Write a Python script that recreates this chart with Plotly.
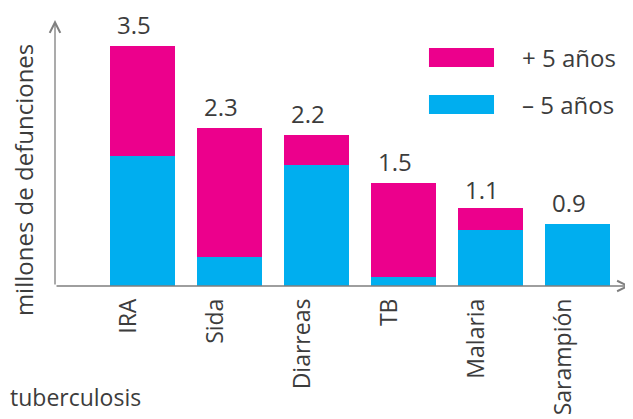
import plotly.graph_objects as go

# Data (millions of deaths)
causas = ["IRA", "Sida", "Diarreas", "TB", "Malaria", "Sarampión"]
menores_5 = [1.89, 0.43, 1.76, 0.13, 0.82, 0.90]
mayores_5 = [1.61, 1.87, 0.44, 1.37, 0.32, 0.0]
totales = [3.5, 2.3, 2.2, 1.5, 1.1, 0.9]
etiquetas_total = ["3.5", "2.3", "2.2", "1.5", "1.1", "0.9"]

PINK = "#EC008C"
BLUE = "#00AEEF"
GRAY = "#7f7f7f"
TXT = "#3c3c3c"
FONT = "Open Sans"

fig = go.Figure()

fig.add_trace(go.Bar(
    x=causas, y=menores_5, name="– 5 años",
    marker=dict(color=BLUE, line=dict(width=0)),
    width=0.75,
))
fig.add_trace(go.Bar(
    x=causas, y=mayores_5, name="+ 5 años",
    marker=dict(color=PINK, line=dict(width=0)),
    width=0.75,
))

# the page body keeps an 8px margin, so the figure is 8px smaller
fig.update_layout(
    width=625, height=411,
    margin=dict(l=47, r=3, t=12, b=133),
    barmode="stack",
    showlegend=False,
    plot_bgcolor="white",
    paper_bgcolor="white",
    font=dict(family=FONT, color=TXT),
)

fig.update_xaxes(
    range=[-1.006, 5.603],
    tickangle=-90,
    tickfont=dict(family=FONT, size=23, color=TXT),
    ticklabelshift=-14,
    ticklabelstandoff=7,
    showline=False, showgrid=False, ticks="",
    fixedrange=True,
)
fig.update_yaxes(
    range=[0, 3.88],
    showticklabels=False, showgrid=False, zeroline=False,
    showline=False, ticks="",
    fixedrange=True,
)

# total labels above each stack
for causa, total, etiqueta in zip(causas, totales, etiquetas_total):
    fig.add_annotation(x=causa, y=total, text=etiqueta, showarrow=False,
                       yanchor="bottom", yshift=4, xshift=-9, borderpad=0,
                       font=dict(family=FONT, size=24, color=TXT))

# axes with arrowheads
fig.add_annotation(x=0, y=1, xref="paper", yref="paper", ax=0, ay=266,
                   showarrow=True, arrowhead=5, arrowsize=1.6, arrowwidth=1.3,
                   arrowcolor=GRAY, text="")
fig.add_annotation(x=1, y=0, xref="paper", yref="paper", ax=-575, ay=0,
                   showarrow=True, arrowhead=5, arrowsize=1.6, arrowwidth=1.3,
                   arrowcolor=GRAY, text="")

# y-axis title
fig.add_annotation(x=-0.0557, y=0.398, xref="paper", yref="paper",
                   xanchor="center", yanchor="middle",
                   text="millones de defunciones", textangle=-90,
                   showarrow=False, font=dict(family=FONT, size=24, color=TXT))

# footnote
fig.add_annotation(x=-0.0817, y=-0.419, xref="paper", yref="paper",
                   text="tuberculosis", showarrow=False, xanchor="left",
                   yanchor="middle", font=dict(family=FONT, size=23, color=TXT))

# custom legend
for color, label, y0, y1 in [(PINK, "+ 5 años", 0.8233, 0.8947),
                             (BLUE, "– 5 años", 0.6466, 0.718)]:
    fig.add_shape(type="rect", xref="paper", yref="paper",
                  x0=0.6504, x1=0.7635, y0=y0, y1=y1,
                  fillcolor=color, line=dict(width=0))
    fig.add_annotation(x=0.8087, y=(y0 + y1) / 2, xref="paper", yref="paper",
                       text=label, showarrow=False, xanchor="left",
                       yanchor="middle",
                       font=dict(family=FONT, size=24, color=TXT))

fig.write_html("out.html")
